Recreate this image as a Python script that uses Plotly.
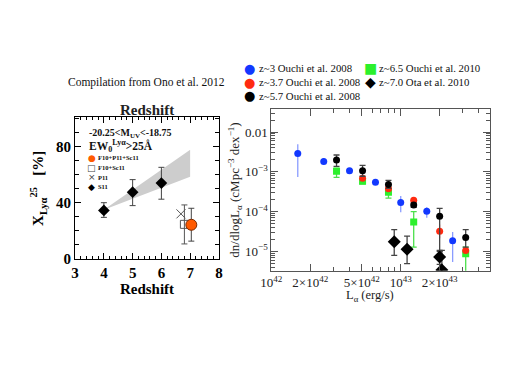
import plotly.graph_objects as go

# ---------------- data: left panel (Ono et al. 2012 compilation) ----------------
s11_z = [4.0, 5.0, 6.0]
s11_x = [34.5, 47.5, 54.0]
s11_hi = [40.0, 56.5, 65.3]
s11_lo = [29.5, 37.9, 42.5]

band_z = [4.0, 7.0]
band_lo = [35.0, 58.6]
band_hi = [35.0, 77.9]

p11_z = [6.68]
p11_x = [32.0]

f10sc11_z = [6.8]
f10sc11_x = [24.5]
f10sc11_hi = [38.4]
f10sc11_lo = [10.5]

all_z = [7.04]
all_x = [24.2]
all_hi = [36.0]
all_lo = [12.5]

# ---------------- data: right panel (Lya luminosity functions) ----------------
blue_L = [1.60e42, 2.54e42, 4.02e42, 6.38e42, 1.00e43, 1.59e43, 2.52e43]
blue_phi = [2.91e-3, 1.82e-3, 1.07e-3, 5.5e-4, 1.70e-4, 1.02e-4, 1.85e-5]
blue_hi = [4.97e-3, 2.19e-3, 1.15e-3, 6.1e-4, 2.48e-4, 1.28e-4, 3.08e-5]
blue_lo = [7.45e-4, 1.51e-3, 0.99e-3, 4.9e-4, 9.6e-5, 6.98e-5, 5.4e-6]

red_L = [5.07e42, 8.04e42, 1.26e43, 2.0e43, 3.18e43]
red_phi = [6.9e-4, 3.76e-4, 1.94e-4, 3.2e-5, 1.05e-5]
red_hi = [7.5e-4, 4.1e-4, 2.2e-4, 4.7e-5, 1.2e-5]
red_lo = [6.3e-4, 3.4e-4, 1.7e-4, 2.12e-5, 9.0e-6]

black_L = [3.19e42, 5.07e42, 8.04e42, 1.26e43, 2.0e43, 3.18e43]
black_phi = [2.0e-3, 1.07e-3, 4.83e-4, 1.46e-4, 7.65e-5, 2.24e-5]
black_hi = [2.66e-3, 1.45e-3, 6.07e-4, 1.65e-4, 1.2e-4, 3.53e-5]
black_lo = [1.37e-3, 7.74e-4, 3.85e-4, 1.28e-4, 1.0e-5, 1.27e-5]

green_L = [3.19e42, 5.07e42, 8.04e42, 1.26e43, 3.18e43]
green_phi = [1.03e-3, 5.82e-4, 3.06e-4, 5.45e-5, 8.67e-6]
green_hi = [1.24e-3, 6.5e-4, 3.63e-4, 1.0e-4, 1.27e-5]
green_lo = [7.3e-4, 5.0e-4, 2.18e-4, 1.27e-5, 1.0e-6]

ota_L = [8.91e42, 1.12e43, 2.0e43, 2.08e43]
ota_phi = [1.75e-5, 1.13e-5, 7.2e-6, 3.4e-6]
ota_hi = [3.53e-5, 2.41e-5, 1.05e-5, 1.05e-5]
ota_lo = [7.87e-6, 4.9e-6, 4.7e-6, 2.0e-6]

xt_vals = [1e42, 2e42, 5e42, 1e43, 2e43]
xt_text = ["10<sup>42</sup>", "2×10<sup>42</sup>", "5×10<sup>42</sup>", "10<sup>43</sup>", "2×10<sup>43</sup>"]
yt_vals = [1e-2, 1e-3, 1e-4, 1e-5]
yt_text = ["0.01", "10<sup>−3</sup>", "10<sup>−4</sup>", "10<sup>−5</sup>"]

W, H = 527, 372
SERIF = "Liberation Serif, Times New Roman, serif"


def fx(p):
    return p / W


def fy(p):
    return 1 - p / H


def errs(v, hi, lo):
    return dict(type="data", symmetric=False,
                array=[h - a for h, a in zip(hi, v)],
                arrayminus=[a - l for a, l in zip(v, lo)])


fig = go.Figure()

# ---- left panel traces ----
fig.add_trace(go.Scatter(
    x=band_z + band_z[::-1], y=band_lo + band_hi[::-1], fill="toself",
    fillcolor="#cdcdcd", line=dict(width=0), mode="lines",
    xaxis="x", yaxis="y", showlegend=False, hoverinfo="skip"))
fig.add_trace(go.Scatter(
    x=s11_z, y=s11_x, mode="markers", xaxis="x", yaxis="y", showlegend=False,
    marker=dict(symbol="diamond", size=9, color="black"),
    error_y=dict(**errs(s11_x, s11_hi, s11_lo), color="#444", thickness=1, width=3)))
fig.add_trace(go.Scatter(
    x=f10sc11_z, y=f10sc11_x, mode="markers", xaxis="x", yaxis="y", showlegend=False,
    marker=dict(symbol="square-open", size=8, color="#555", line=dict(width=1)),
    error_y=dict(**errs(f10sc11_x, f10sc11_hi, f10sc11_lo), color="#555", thickness=1, width=3)))
fig.add_trace(go.Scatter(
    x=p11_z, y=p11_x, mode="markers", xaxis="x", yaxis="y", showlegend=False,
    marker=dict(symbol="x-thin-open", size=9, color="#555", line=dict(width=1, color="#555"))))
fig.add_trace(go.Scatter(
    x=all_z, y=all_x, mode="markers", xaxis="x", yaxis="y", showlegend=False,
    marker=dict(symbol="circle", size=11, color="#ff5a00", line=dict(width=1, color="#7a2a00")),
    error_y=dict(**errs(all_x, all_hi, all_lo), color="#444", thickness=1, width=3)))

# ---- right panel traces ----
def lf(L, phi, hi, lo, name, sym, size, col, ecol, ew):
    fig.add_trace(go.Scatter(
        x=L, y=phi, mode="markers", name=name, xaxis="x2", yaxis="y2", showlegend=False,
        marker=dict(symbol=sym, size=size, color=col),
        error_y=dict(**errs(phi, hi, lo), color=ecol, thickness=1.3, width=ew)))


lf(blue_L, blue_phi, blue_hi, blue_lo, "z~3 Ouchi et al. 2008", "circle", 7, "#1238ff", "#8a9cff", 0)
lf(green_L, green_phi, green_hi, green_lo, "z~6.5 Ouchi et al. 2010", "square", 7, "#2cf02c", "#4be04b", 3)
lf(red_L, red_phi, red_hi, red_lo, "z~3.7 Ouchi et al. 2008", "circle", 7, "#ff2a10", "#ff9a9a", 0)
lf(black_L, black_phi, black_hi, black_lo, "z~5.7 Ouchi et al. 2008", "circle", 7, "black", "#444", 3)
lf(ota_L, ota_phi, ota_hi, ota_lo, "z~7.0 Ota et al. 2010", "diamond", 10, "black", "#444", 3)

# minor ticks lists
x_minor = [k * 1e42 for k in range(1, 10)] + [k * 1e43 for k in range(1, 6)]
y_minor = [k * 10.0 ** e for e in range(-6, -1) for k in range(1, 10)]

ax_common = dict(showgrid=False, zeroline=False, ticks="inside", mirror="allticks",
                 showline=True)

fig.update_layout(
    width=W, height=H, margin=dict(l=0, r=0, t=0, b=0),
    paper_bgcolor="white", plot_bgcolor="white", showlegend=False,
    font=dict(family=SERIF, color="black"),
    xaxis=dict(**ax_common, domain=[fx(66), fx(214)], range=[3, 8], linecolor="black",
               tickvals=[3, 4, 5, 6, 7, 8], ticklen=6, tickcolor="black",
               minor=dict(dtick=0.2, ticklen=3, tickcolor="black", ticks="inside"),
               tickfont=dict(family=SERIF, size=15, color="black", weight="bold"),
               title=dict(text="<b>Redshift</b>", standoff=2,
                          font=dict(family=SERIF, size=15))),
    yaxis=dict(**ax_common, domain=[fy(265), fy(120)], range=[-0.5, 101], linecolor="black",
               tickvals=[0, 40, 80], ticklen=6, tickcolor="black",
               minor=dict(dtick=10, ticklen=4, tickcolor="black", ticks="inside"),
               tickfont=dict(family=SERIF, size=15, color="black", weight="bold"),
               title=dict(text="<b>X<sub>Lyα</sub><sup>25</sup>   [%]</b>", standoff=8,
                          font=dict(family=SERIF, size=15))),
    xaxis2=dict(**ax_common, domain=[fx(268), fx(493)], type="log", range=[42, 43.69],
                linecolor="#555", tickcolor="#555", ticklen=7, anchor="y2",
                tickvals=xt_vals, ticktext=xt_text, ticklabelstandoff=0,
                minor=dict(tickvals=x_minor, ticklen=4, tickcolor="#555", ticks="inside"),
                tickfont=dict(family=SERIF, size=13, color="#222")),
    yaxis2=dict(**ax_common, domain=[fy(276.7), fy(111.7)], type="log", range=[-5.49, -1.425],
                anchor="x2", linecolor="#555", tickcolor="#555", ticklen=7,
                tickvals=yt_vals, ticktext=yt_text,
                minor=dict(tickvals=y_minor, ticklen=4, tickcolor="#555", ticks="inside"),
                tickfont=dict(family=SERIF, size=13, color="#222"),
                title=dict(text="dn/dlogL<sub>α</sub> (cMpc<sup>−3</sup> dex<sup>−1</sup>)",
                           standoff=2, font=dict(family=SERIF, size=13, color="#222"))),
)

ann = []
# title above left panel
ann.append(dict(text="Compilation from Ono et al. 2012", x=fx(57), y=fy(84), xanchor="left",
                font=dict(family=SERIF, size=11.5, color="#111")))
ann.append(dict(text="<b>Redshift</b>", x=fx(140), y=fy(112),
                font=dict(family=SERIF, size=15, color="#222")))
# right x-axis title
ann.append(dict(text="L<sub>α</sub> (erg/s)", x=fx(370), y=fy(302),
                font=dict(family=SERIF, size=12.5, color="#222")))
# left panel texts
ann.append(dict(text="<b>-20.25<M<sub>UV</sub><-18.75</b>", x=fx(78), y=fy(136), xanchor="left",
                font=dict(family=SERIF, size=10, color="#111")))
ann.append(dict(text="<b>EW<sub>0</sub><sup>Lyα</sup>>25Å</b>", x=fx(78), y=fy(149), xanchor="left",
                font=dict(family=SERIF, size=11.5, color="#111")))
small = [("#ff5a00", "●", "F10+P11+Sc11", 161),
         ("#444", "□", "F10+Sc11", 171.5),
         ("#444", "×", "P11", 181),
         ("black", "◆", "S11", 191)]
for col, g, t, yy in small:
    ann.append(dict(text=g, x=fx(83), y=fy(yy), font=dict(family="DejaVu Sans", size=9, color=col)))
    ann.append(dict(text="<b>" + t + "</b>", x=fx(88), y=fy(yy), xanchor="left",
                    font=dict(family=SERIF, size=6.5, color="#111")))
# top right legend
legend_items = [("#1238ff", "●", 13, "z~3 Ouchi et al. 2008", 246, 70),
                ("#ff2a10", "●", 13, "z~3.7 Ouchi et al. 2008", 246, 84),
                ("black", "●", 13, "z~5.7 Ouchi et al. 2008", 246, 98),
                ("#2cf02c", "■", 14, "z~6.5 Ouchi et al. 2010", 370, 70),
                ("black", "◆", 14, "z~7.0 Ota et al. 2010", 370, 84)]
for col, g, gs, t, xx, yy in legend_items:
    ann.append(dict(text=g, x=fx(xx), y=fy(yy), font=dict(family="DejaVu Sans", size=gs, color=col)))
    ann.append(dict(text=t, x=fx(xx + 7), y=fy(yy), xanchor="left",
                    font=dict(family=SERIF, size=10.8, color="#111")))
for a in ann:
    a.setdefault("xanchor", "center")
    a.update(xref="paper", yref="paper", yanchor="middle", showarrow=False)
fig.update_layout(annotations=ann)

fig.write_html("out.html", config={"displayModeBar": False},
               post_script="document.body.style.margin='0';")
